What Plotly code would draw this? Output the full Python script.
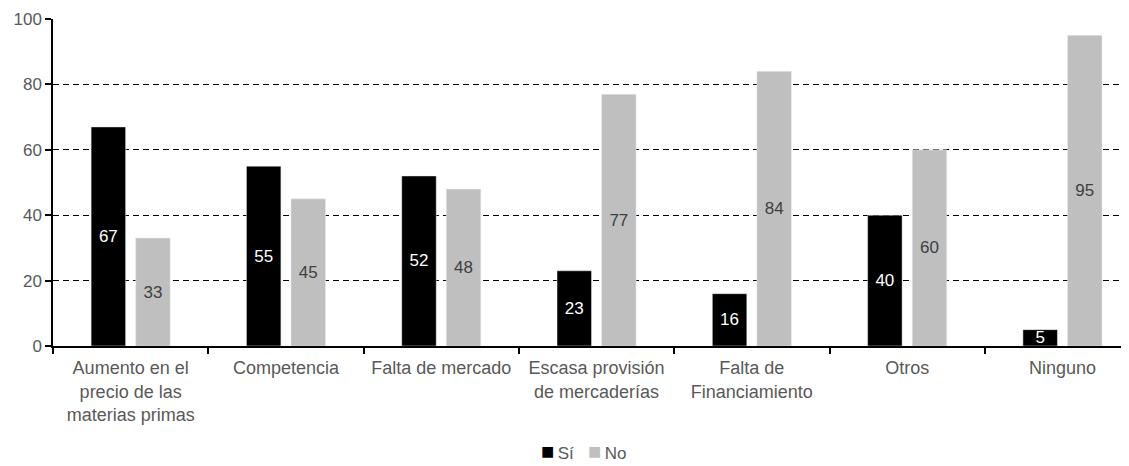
import plotly.graph_objects as go

# Datos
categorias = ["Aumento en el<br>precio de las<br>materias primas", "Competencia", "Falta de mercado",
              "Escasa provisión<br>de mercaderías", "Falta de<br>Financiamiento", "Otros", "Ninguno"]
si = [67, 55, 52, 23, 16, 40, 5]
no = [33, 45, 48, 77, 84, 60, 95]

fig = go.Figure()
fig.add_trace(go.Bar(x=categorias, y=si, name="Sí", marker_color="#000000",
                     text=si, textposition="inside", insidetextanchor="middle", textangle=0,
                     textfont=dict(color="white", size=17), constraintext="none"))
fig.add_trace(go.Bar(x=categorias, y=no, name="No", marker_color="#bfbfbf",
                     text=no, textposition="inside", insidetextanchor="middle", textangle=0,
                     textfont=dict(color="#404040", size=17), constraintext="none"))

# leyenda compacta como en el original
fig.add_annotation(
    text="<span style='color:#000000;font-size:22px'>■</span>\u2009Sí   "
         "<span style='color:#bfbfbf;font-size:22px'>■</span>\u2009No",
    xref="paper", yref="paper", x=0.489, y=-0.323, xanchor="center", yanchor="middle",
    showarrow=False, font=dict(size=17, color="#595959"))

fig.update_layout(
    width=1129, height=466,
    margin=dict(l=45, r=0, t=11, b=128),
    barmode="group", bargap=0.426, bargroupgap=0.226,
    plot_bgcolor="white", paper_bgcolor="white",
    font=dict(family="Liberation Sans, Arial", size=17, color="#595959"),
    showlegend=False,
)
fig.update_xaxes(range=[-0.5, 6.48], showline=True, linecolor="black", linewidth=1.5,
                 ticks="outside", tickson="boundaries", ticklen=6, tickcolor="black",
                 tickwidth=1.5, showgrid=False, tickfont=dict(size=18), automargin=False,
                 ticklabelstandoff=5)
fig.update_yaxes(range=[0, 100], dtick=20, showline=True, linecolor="black", linewidth=1.5,
                 ticks="outside", ticklen=6, tickcolor="black", tickwidth=1.5,
                 showgrid=True, gridcolor="black", griddash="6px,4px", gridwidth=1,
                 zeroline=False, automargin=False)

fig.write_html("out.html")
